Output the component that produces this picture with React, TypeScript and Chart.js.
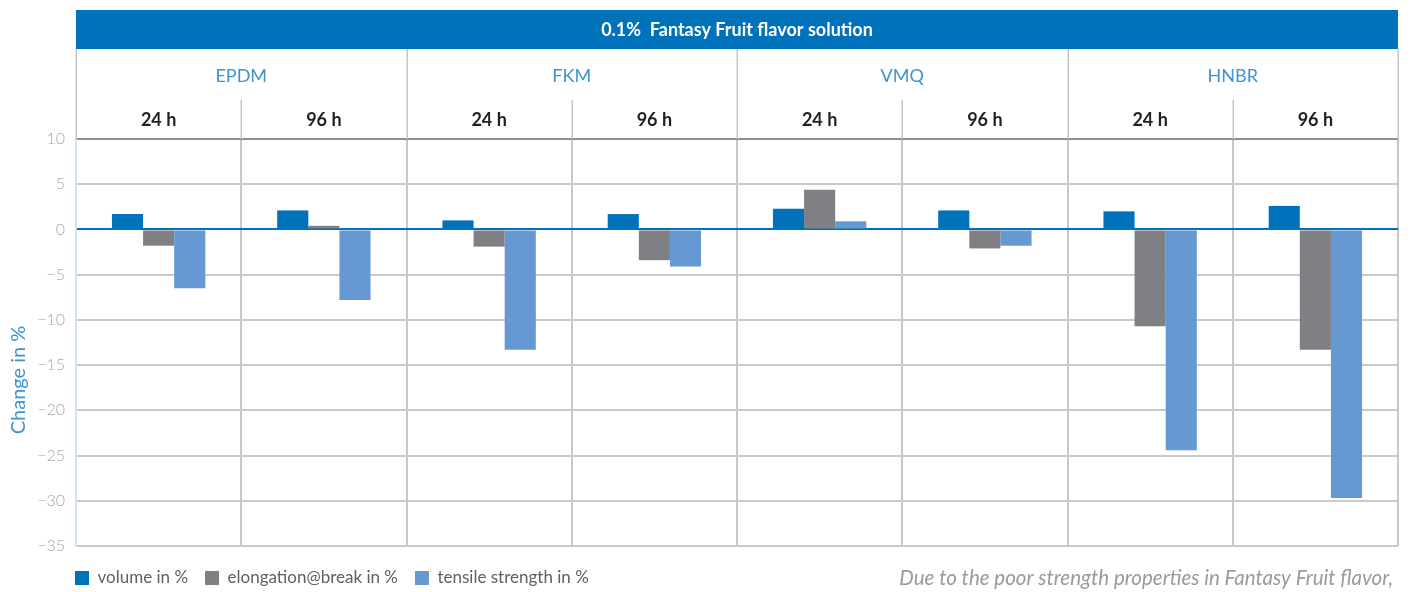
import React, { useEffect, useRef } from 'react';
import { Chart, registerables } from 'chart.js';

Chart.register(...registerables);

const chartTitle = '0.1%  Fantasy Fruit flavor solution';
const materials = ['EPDM', 'FKM', 'VMQ', 'HNBR'];
const categories = ['24 h', '96 h', '24 h', '96 h', '24 h', '96 h', '24 h', '96 h'];
const seriesNames = ['volume in %', 'elongation@break in %', 'tensile strength in %'];
const volume = [1.7, 2.1, 1.0, 1.7, 2.3, 2.1, 2.0, 2.6];
const elongation = [-1.8, 0.4, -1.9, -3.4, 4.4, -2.1, -10.7, -13.3];
const tensile = [-6.5, -7.8, -13.3, -4.1, 0.9, -1.8, -24.4, -29.7];
const yMin = -35;
const yMax = 10;
const yStep = 5;
const yTitle = 'Change in %';
const footnote = 'Due to the poor strength properties in Fantasy Fruit flavor,';

const FONT = 'Lato';
const BLUE = '#0071bb';
const GREY_BAR = '#808084';
const LIGHT_BLUE = '#6699d2';
const LABEL_BLUE = '#3f93d3';

const decorPlugin = {
  id: 'decor',
  afterLayout(chart: any) {
    const lg = chart.legend;
    if (lg) {
      const pad = lg.options.labels.padding;
      const desiredCenter = 578;
      const itemH = 17;
      const curCenter = lg.top + pad + itemH / 2;
      const dy = desiredCenter - curCenter;
      lg.top += dy;
      lg.bottom += dy;
      const dx = 75 - (lg.left + pad);
      lg.left += dx;
    }
  },
  afterDraw(chart: any) {
    const { ctx, chartArea } = chart;
    const xs = chart.scales.x;
    const left = chartArea.left;
    const right = chartArea.right;
    const n = categories.length;
    const w = (right - left) / n;
    ctx.save();
    // blue title band
    ctx.fillStyle = BLUE;
    ctx.fillRect(left, 10, right - left, 39);
    ctx.fillStyle = '#ffffff';
    ctx.font = `bold 18px ${FONT}`;
    ctx.textAlign = 'center';
    ctx.textBaseline = 'middle';
    ctx.fillText(chartTitle, (left + right) / 2, 30);
    // header lines
    ctx.strokeStyle = '#c4c4c8';
    ctx.lineWidth = 1.5;
    for (let i = 0; i <= n; i++) {
      const x = Math.round(left + i * w) + 0.25;
      const top = i % 2 === 0 ? 49 : 100;
      ctx.beginPath();
      ctx.moveTo(x, top);
      ctx.lineTo(x, chartArea.top);
      ctx.stroke();
    }
    // material labels
    ctx.fillStyle = LABEL_BLUE;
    ctx.font = `18px ${FONT}`;
    materials.forEach((m, k) => {
      const cx = (xs.getPixelForValue(2 * k) + xs.getPixelForValue(2 * k + 1)) / 2;
      ctx.fillText(m, cx, 76);
    });
    // time labels
    ctx.fillStyle = '#231f20';
    ctx.font = `bold 18px ${FONT}`;
    categories.forEach((c, i) => {
      ctx.fillText(c, xs.getPixelForValue(i), 120);
    });
    // y title
    ctx.save();
    ctx.translate(19, 380);
    ctx.rotate(-Math.PI / 2);
    ctx.fillStyle = LABEL_BLUE;
    ctx.font = `20px ${FONT}`;
    ctx.fillText(yTitle, 0, 0);
    ctx.restore();
    // footnote
    ctx.fillStyle = '#9a9a9a';
    ctx.font = `italic 20.5px ${FONT}`;
    ctx.textAlign = 'right';
    ctx.fillText(footnote, 1393, 578);
    ctx.restore();
  },
};

export default function App() {
  const ref = useRef<HTMLCanvasElement | null>(null);
  useEffect(() => {
    if (!ref.current) return;
    const chart = new Chart(ref.current, {
      type: 'bar',
      data: {
        labels: categories,
        datasets: [
          { label: seriesNames[0], data: volume, backgroundColor: BLUE },
          { label: seriesNames[1], data: elongation, backgroundColor: GREY_BAR },
          { label: seriesNames[2], data: tensile, backgroundColor: LIGHT_BLUE },
        ],
      },
      options: {
        animation: false,
        responsive: true,
        maintainAspectRatio: false,
        layout: { padding: { top: 139, left: 0, right: 13, bottom: 2 } },
        datasets: { bar: { categoryPercentage: 0.565, barPercentage: 1.0 } },
        plugins: {
          title: { display: false },
          tooltip: { enabled: false },
          legend: {
            display: true,
            position: 'bottom',
            align: 'start',
            labels: {
              boxWidth: 14,
              boxHeight: 14,
              padding: 17,
              color: '#606060',
              font: { family: FONT, size: 17 },
            },
          },
        },
        scales: {
          x: {
            type: 'category',
            position: 'bottom',
            offset: true,
            ticks: { display: false },
            grid: {
              offset: true,
              color: '#c8c8cc',
              lineWidth: 2,
              drawTicks: false,
            },
            border: { display: false },
          },
          y: {
            min: yMin,
            max: yMax,
            afterFit: (scale: any) => {
              scale.width = 76;
            },
            ticks: {
              stepSize: yStep,
              padding: 11,
              color: '#a8a8a8',
              font: { family: FONT, size: 16, weight: '300' as any },
              callback: (v: any) => String(v).replace('-', '\u2212'),
            },
            grid: {
              drawTicks: false,
              lineWidth: 2,
              color: (c: any) => {
                const v = c.tick ? c.tick.value : null;
                if (v === 0) return BLUE;
                if (v === yMax) return '#8e8e90';
                return '#cacacc';
              },
            },
            border: { display: true, color: '#d3e2f3', width: 2 },
          },
        },
      },
      plugins: [decorPlugin],
    });
    return () => chart.destroy();
  }, []);
  return (
    <div style={{ position: 'absolute', left: 0, top: 0, width: 1411, height: 592, background: '#fff' }}>
      <canvas ref={ref} />
    </div>
  );
}
